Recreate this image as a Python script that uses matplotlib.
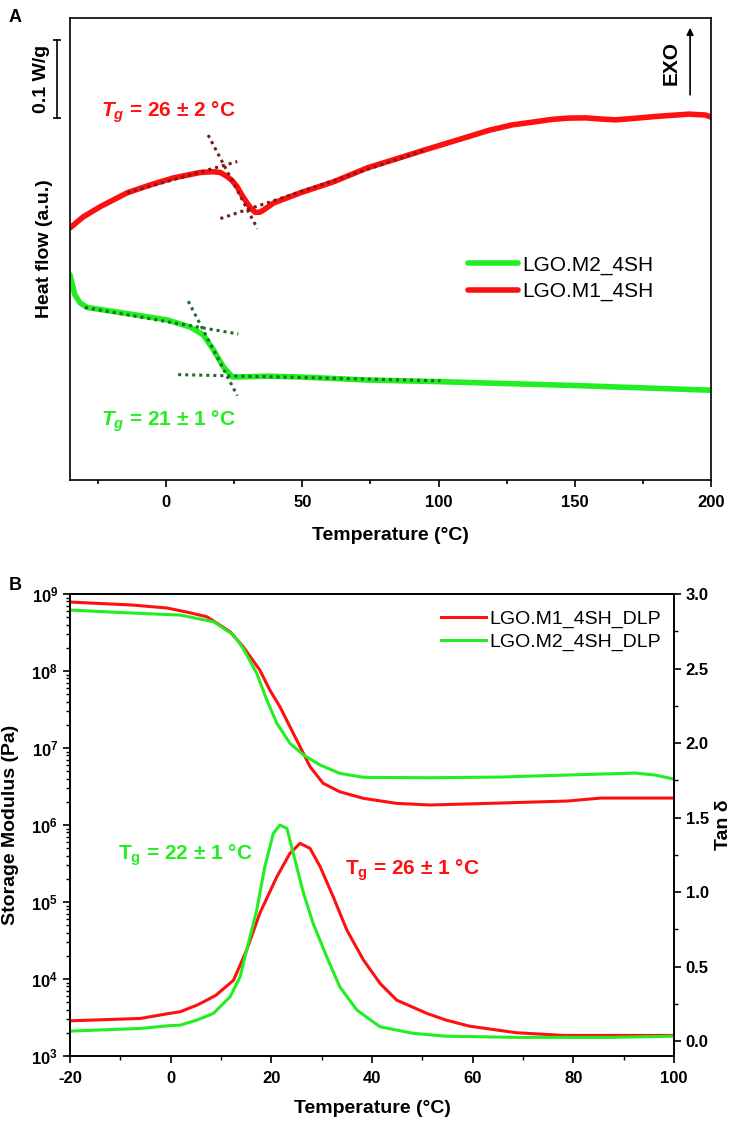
import math
import matplotlib
matplotlib.use("Agg")
import matplotlib.pyplot as plt
import matplotlib.transforms as mtransforms
from matplotlib.ticker import MultipleLocator, LogLocator, FuncFormatter, NullFormatter

plt.rcParams['font.family'] = ['Liberation Sans', 'DejaVu Sans']
plt.rcParams['axes.unicode_minus'] = False
plt.rcParams['mathtext.fontset'] = 'custom'
plt.rcParams['mathtext.rm'] = 'Liberation Sans:bold'
plt.rcParams['mathtext.bf'] = 'Liberation Sans:bold'
plt.rcParams['mathtext.it'] = 'Liberation Sans:italic:bold'

RED = '#ff1010'
GREEN = '#22ee22'
DARK_RED = '#7b1a1a'
DARK_GREEN = '#1e6b2e'

# ---- Panel A: DSC (heat flow, W/g with offset) ----
dsc_m1_temp = [-35.3, -30.5, -24.3, -14.3, -5.9, 2.6, 12.5, 17.3, 19.9, 22.3, 24.1, 26.0, 27.8, 29.7,
               31.1, 32.7, 34.3, 35.8, 39.5, 49.3, 61.4, 73.9, 85, 95, 111, 118.4, 127, 135.5, 141.5,
               147.8, 154, 160, 165, 169.9, 179.7, 191.9, 198, 200]
dsc_m1_flow = [0.323, 0.337, 0.350, 0.368, 0.378, 0.387, 0.394, 0.395, 0.394, 0.389, 0.384, 0.376, 0.365,
               0.355, 0.348, 0.343, 0.343, 0.346, 0.355, 0.368, 0.382, 0.400, 0.412, 0.423, 0.440, 0.448,
               0.455, 0.459, 0.462, 0.4637, 0.464, 0.4624, 0.4615, 0.4628, 0.4658, 0.4688, 0.4676, 0.465]
dsc_m2_temp = [-35.3, -34.6, -33.5, -31.6, -29, -12.1, 0.4, 8.8, 13.6, 17.3, 21, 24.3, 27.2,
               37, 49, 74, 100, 150, 200]
dsc_m2_flow = [0.263, 0.253, 0.237, 0.227, 0.221, 0.212, 0.205, 0.196, 0.186, 0.167, 0.145, 0.132, 0.132,
               0.133, 0.132, 0.128, 0.126, 0.121, 0.115]

# tangent construction lines (start T, start y, end T, end y)
m1_tangents = [(-14.3, 0.368, 26.1, 0.408), (15.4, 0.442, 33.5, 0.322), (19.9, 0.335, 95.2, 0.423)]
m2_tangents = [(-29.8, 0.221, 26.5, 0.187), (8.1, 0.229, 26.1, 0.108), (4.4, 0.135, 100.7, 0.127)]

# ---- Panel B: DMA ----
dma_m1_temp = [-20, -7.5, -0.7, 3.2, 7.2, 11.8, 14.4, 17.7, 19.7, 21.7, 23.7, 25.7, 27.7, 30.3, 33.6,
               38.3, 44.9, 51.5, 65.6, 78.9, 85.5, 96.2, 100]
dma_m1_modulus = [7.87e8, 7.19e8, 6.58e8, 5.83e8, 5.07e8, 3.24e8, 2.07e8, 1.03e8, 5.66e7, 3.44e7, 1.89e7,
                  1.04e7, 5.71e6, 3.48e6, 2.70e6, 2.22e6, 1.91e6, 1.82e6, 1.93e6, 2.05e6, 2.24e6,
                  2.24e6, 2.24e6]
dma_m2_temp = [-20, -7.5, 1.9, 8.5, 12.5, 14.4, 17.1, 19.1, 21.1, 23.7, 26.4, 29.7, 33.6, 38.3, 51.5,
               65.6, 78.9, 92.3, 96.2, 100]
dma_m2_modulus = [6.19e8, 5.66e8, 5.33e8, 4.37e8, 2.94e8, 1.97e8, 9.33e7, 4.20e7, 2.09e7, 1.15e7, 8.11e6,
                  6.01e6, 4.69e6, 4.16e6, 4.11e6, 4.20e6, 4.46e6, 4.73e6, 4.46e6, 3.95e6]

tan_m1_temp = [-20, -6, -0.4, 1.9, 5.2, 7.2, 9.0, 12.5, 15.1, 17.7, 21.1, 23.7, 25.7, 27.7, 29.7, 32.3,
               35.0, 38.3, 41.6, 44.9, 50.9, 54.7, 59.4, 68.7, 78.1, 87.4, 100]
tan_m1 = [0.136, 0.152, 0.185, 0.197, 0.241, 0.275, 0.308, 0.409, 0.611, 0.857, 1.103, 1.260, 1.327,
          1.293, 1.170, 0.968, 0.745, 0.544, 0.387, 0.275, 0.186, 0.141, 0.100, 0.056, 0.038, 0.038, 0.038]
tan_m2_temp = [-20, -6, -0.4, 1.9, 5.2, 8.5, 11.8, 13.8, 15.1, 17.1, 18.7, 20.4, 21.7, 23.1, 24.7, 26.4,
               28.3, 31.0, 33.6, 37.0, 41.6, 48.2, 54.7, 68.7, 87.4, 100]
tan_m2 = [0.067, 0.085, 0.103, 0.107, 0.141, 0.186, 0.297, 0.432, 0.611, 0.879, 1.170, 1.394, 1.450,
          1.427, 1.215, 0.991, 0.790, 0.566, 0.364, 0.208, 0.096, 0.052, 0.033, 0.025, 0.025, 0.033]

fig = plt.figure(figsize=(7.36, 11.24), dpi=100)

# ================= Panel A =================
ax = fig.add_axes([0.0951, 0.573, 0.871, 0.411])
ax.plot(dsc_m2_temp, dsc_m2_flow, color=GREEN, lw=4, label='LGO.M2_4SH', solid_capstyle='round')
ax.plot(dsc_m1_temp, dsc_m1_flow, color=RED, lw=4, label='LGO.M1_4SH', solid_capstyle='round')
for t0, y0, t1, y1 in m1_tangents:
    ax.plot([t0, t1], [y0, y1], color=DARK_RED, lw=2.2, ls=(0, (1, 1.3)))
for t0, y0, t1, y1 in m2_tangents:
    ax.plot([t0, t1], [y0, y1], color=DARK_GREEN, lw=2.2, ls=(0, (1, 1.3)))

ax.set_xlim(-35.3, 200)
ax.set_ylim(0, 0.592)
ax.set_yticks([])
ax.xaxis.set_major_locator(MultipleLocator(50))
ax.xaxis.set_minor_locator(MultipleLocator(25))
ax.tick_params(axis='x', which='major', direction='out', length=5, width=1.2, labelsize=12, pad=6)
ax.tick_params(axis='x', which='minor', direction='out', length=3, width=1.2)
for lab in ax.get_xticklabels():
    lab.set_fontweight('bold')
for sp in ax.spines.values():
    sp.set_linewidth(1.2)
ax.set_xlabel('Temperature (°C)', fontsize=14, fontweight='bold', labelpad=12)
ax.set_ylabel('Heat flow (a.u.)', fontsize=14, fontweight='bold')
ax.yaxis.set_label_coords(-0.027, 0.5)

ax.text(0.7, 0.471, '$T_g$ = 26 ± 2 °C', color=RED, fontsize=15, fontweight='bold', ha='center', va='center')
ax.text(0.7, 0.075, '$T_g$ = 21 ± 1 °C', color=GREEN, fontsize=15, fontweight='bold', ha='center', va='center')

# scale bar 0.1 W/g
trans = mtransforms.blended_transform_factory(ax.transAxes, ax.transData)
ax.plot([-0.0203, -0.0203], [0.464, 0.564], color='black', lw=1.2, transform=trans, clip_on=False)
ax.plot([-0.0203, -0.0203], [0.464, 0.564], ls='none', marker='_', ms=6, mew=1.2, color='black',
        transform=trans, clip_on=False)
ax.text(-0.044, 0.514, '0.1 W/g', rotation=90, fontsize=14, fontweight='bold', ha='center', va='center',
        transform=trans)

# EXO arrow
ax.annotate('', xy=(192.3, 0.583), xytext=(192.3, 0.490),
            arrowprops=dict(arrowstyle='-|>', color='black', lw=1.2, mutation_scale=10))
ax.text(185.5, 0.534, 'EXO', rotation=90, fontsize=15, fontweight='bold', ha='center', va='center')

ax.legend(loc='upper left', bbox_to_anchor=(0.621, 0.486), frameon=False, fontsize=15,
          handlelength=2.4, handletextpad=0.2, labelspacing=0.35, borderpad=0, borderaxespad=0)

fig.text(0.012, 0.992, 'A', fontsize=13, fontweight='bold', ha='left', va='top')

# ================= Panel B =================
bx = fig.add_axes([0.0951, 0.0605, 0.8207, 0.411])
bx.plot(dma_m1_temp, dma_m1_modulus, color=RED, lw=2.2, label='LGO.M1_4SH_DLP')
bx.plot(dma_m2_temp, dma_m2_modulus, color=GREEN, lw=2.2, label='LGO.M2_4SH_DLP')
bx.set_yscale('log')
bx.set_ylim(1e3, 1e9)
bx.set_xlim(-20, 100)
bx.xaxis.set_major_locator(MultipleLocator(20))
bx.xaxis.set_minor_locator(MultipleLocator(10))
bx.yaxis.set_major_locator(LogLocator(base=10, numticks=10))
bx.yaxis.set_minor_locator(LogLocator(base=10, subs=range(2, 10), numticks=20))
bx.yaxis.set_minor_formatter(NullFormatter())
bx.yaxis.set_major_formatter(FuncFormatter(lambda v, p: r'$\mathbf{10^{%d}}$' % round(math.log10(v))))
bx.tick_params(axis='both', which='major', direction='out', length=5, width=1.2, labelsize=12)
bx.tick_params(axis='both', which='minor', direction='out', length=3, width=1.0)
bx.tick_params(axis='x', pad=6)
for lab in bx.get_xticklabels():
    lab.set_fontweight('bold')
for sp in bx.spines.values():
    sp.set_linewidth(1.2)
bx.set_xlabel('Temperature (°C)', fontsize=14, fontweight='bold', labelpad=10)
bx.set_ylabel('Storage Modulus (Pa)', fontsize=14, fontweight='bold')
bx.yaxis.set_label_coords(-0.085, 0.5)

tx = bx.twinx()
tx.plot(tan_m1_temp, tan_m1, color=RED, lw=2.2)
tx.plot(tan_m2_temp, tan_m2, color=GREEN, lw=2.2)
tx.set_ylim(-0.1, 3.0)
tx.yaxis.set_major_locator(MultipleLocator(0.5))
tx.yaxis.set_minor_locator(MultipleLocator(0.25))
tx.yaxis.set_major_formatter(FuncFormatter(lambda v, p: '%.1f' % v))
tx.tick_params(axis='y', which='major', direction='out', length=5, width=1.2, labelsize=12)
tx.tick_params(axis='y', which='minor', direction='out', length=3, width=1.0)
for lab in tx.get_yticklabels():
    lab.set_fontweight('bold')
for sp in tx.spines.values():
    sp.set_linewidth(1.2)
tx.set_ylabel('Tan δ', fontsize=14, fontweight='bold')

tx.text(2.85, 1.25, r'$\mathrm{T_g}$ = 22 ± 1 °C', color=GREEN, fontsize=15, fontweight='bold',
        ha='center', va='center')
tx.text(48.0, 1.148, r'$\mathrm{T_g}$ = 26 ± 1 °C', color=RED, fontsize=15, fontweight='bold',
        ha='center', va='center')

bx.legend(loc='upper left', bbox_to_anchor=(0.614, 0.964), frameon=False, fontsize=14,
          handlelength=2.3, handletextpad=0.2, labelspacing=0.25, borderpad=0, borderaxespad=0)

fig.text(0.012, 0.487, 'B', fontsize=13, fontweight='bold', ha='left', va='top')

fig.savefig('out.png', dpi=100)
